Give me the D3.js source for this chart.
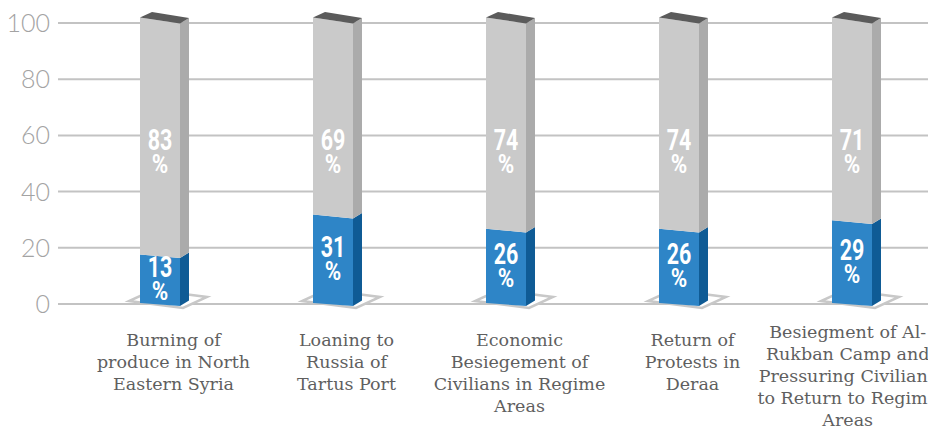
<!DOCTYPE html>
<html>
<head>
<meta charset="utf-8">
<script src="https://cdn.jsdelivr.net/npm/d3@7"></script>
<style>
  html, body { margin: 0; padding: 0; background: #ffffff; }
  svg { display: block; }
</style>
</head>
<body>
<svg id="chart" width="928" height="428"></svg>
<script>
// ---- data ----
const categories = [
  "Burning of produce in North Eastern Syria",
  "Loaning to Russia of Tartus Port",
  "Economic Besiegement of Civilians in Regime Areas",
  "Return of Protests in Deraa",
  "Besiegment of Al-Rukban Camp and Pressuring Civilians to Return to Regime Areas"
];
const categoryLines = [
  ["Burning of", "produce in North", "Eastern Syria"],
  ["Loaning to", "Russia of", "Tartus Port"],
  ["Economic", "Besiegement of", "Civilians in Regime", "Areas"],
  ["Return of", "Protests in", "Deraa"],
  ["Besiegment of Al-", "Rukban Camp and", "Pressuring Civilians", "to Return to Regime", "Areas"]
];
const blueValues = [17, 31, 26, 26, 29];   // drawn segment heights as seen
const grayValues = [83, 69, 74, 74, 71];
const blueLabels = ["13", "31", "26", "26", "29"];
const grayLabels = ["83", "69", "74", "74", "71"];
const yTicks = [0, 20, 40, 60, 80, 100];

// ---- layout ----
const svg = d3.select("#chart");
const yGrid = d3.scaleLinear().domain([0, 100]).range([304, 23]);
const yFront = d3.scaleLinear().domain([0, 100]).range([303, 17.5]);
const x = d3.scaleBand().domain(categories).range([78, 943]);
const frontW = 40, sideDx = 9, sideDy = -5.5, topBackDx = 12;
const slant = v => 3 + 3 * v / 100;

// gridlines
svg.append("g").selectAll("line").data(yTicks).join("line")
  .attr("x1", 58).attr("x2", 928)
  .attr("y1", d => yGrid(d)).attr("y2", d => yGrid(d))
  .attr("stroke", "#c3c3c3").attr("stroke-width", 2);

// y axis labels
svg.append("g").selectAll("text").data(yTicks).join("text")
  .attr("x", 50).attr("y", d => yGrid(d))
  .attr("dy", "0.36em")
  .attr("text-anchor", "end")
  .attr("font-family", "Lato, 'Open Sans', sans-serif")
  .attr("font-weight", 300)
  .attr("font-size", 25)
  .attr("fill", "#a3a3a3")
  .text(d => d);

const bars = svg.append("g");
categories.forEach((c, i) => {
  const L = x(c) + x.bandwidth() / 2 - 24.5;
  const R = L + frontW;
  const g = bars.append("g");

  // floor plate
  const plate = [[L - 11, 301], [L + 43, 308], [L + 67, 297], [L + 13, 290]];
  g.append("polygon")
    .attr("points", plate.map(p => p.join(",")).join(" "))
    .attr("fill", "#ffffff").attr("stroke", "#c8c8c8").attr("stroke-width", 2.5);

  const segs = [
    { v0: 0, v1: blueValues[i], front: "#2e85c7", side: "#0f5b95" },
    { v0: blueValues[i], v1: blueValues[i] + grayValues[i], front: "#cacaca", side: "#ababab" }
  ];
  segs.forEach(s => {
    const y0L = yFront(s.v0), y0R = y0L + slant(s.v0);
    const y1L = yFront(s.v1), y1R = y1L + slant(s.v1);
    g.append("polygon")
      .attr("points", [[L, y0L], [R, y0R], [R, y1R], [L, y1L]].map(p => p.join(",")).join(" "))
      .attr("fill", s.front);
    g.append("polygon")
      .attr("points", [[R, y0R], [R + sideDx, y0R + sideDy], [R + sideDx, y1R + sideDy], [R, y1R]].map(p => p.join(",")).join(" "))
      .attr("fill", s.side);
  });
  // top face
  const vt = blueValues[i] + grayValues[i];
  const tL = yFront(vt), tR = tL + slant(vt);
  g.append("polygon")
    .attr("points", [[L, tL], [R, tR], [R + sideDx, tR + sideDy], [L + topBackDx, tL + sideDy]].map(p => p.join(",")).join(" "))
    .attr("fill", "#5b5b5b");

  // value labels (condensed)
  const cx = L + frontW / 2;
  const lbl = (cy, num) => {
    const common = t => t
      .attr("text-anchor", "middle")
      .attr("font-family", "Roboto, 'Liberation Sans', sans-serif")
      .attr("font-weight", "bold")
      .attr("fill", "#ffffff");
    common(g.append("text"))
      .attr("transform", `translate(${cx},${cy - 3}) scale(0.74,1)`)
      .attr("font-size", 29)
      .text(num);
    common(g.append("text"))
      .attr("transform", `translate(${cx},${cy + 20}) scale(0.86,1)`)
      .attr("font-size", 26)
      .text("%");
  };
  lbl(yFront(53) + 1, grayLabels[i]);
  lbl(yFront(blueValues[i] / 2) + 1, blueLabels[i]);
});

// category labels
const xl = svg.append("g");
categories.forEach((c, i) => {
  const lines = categoryLines[i];
  const start = 346 - Math.max(0, lines.length - 4) * 8;
  const t = xl.append("text")
    .attr("text-anchor", "middle")
    .attr("font-family", "'DejaVu Serif', serif")
    .attr("font-size", 17.5)
    .attr("fill", "#5f5f5f");
  const spans = lines.map((ln, k) =>
    t.append("tspan").attr("y", start + k * 22).text(ln));
  const maxW = d3.max(spans, s => s.node().getComputedTextLength());
  const cx = Math.min(x(c) + x.bandwidth() / 2 + 9, 938 - maxW / 2);
  spans.forEach(s => s.attr("x", cx));
});
</script>
</body>
</html>
